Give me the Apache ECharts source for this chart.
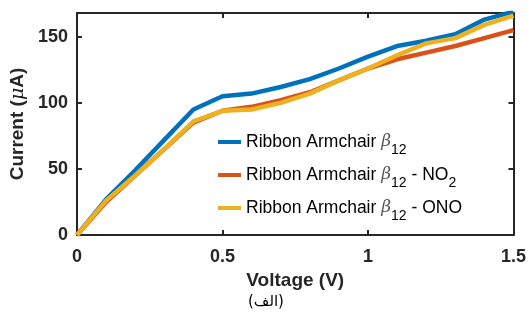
<!DOCTYPE html>
<html><head><meta charset="utf-8">
<script src="https://cdn.jsdelivr.net/npm/echarts@6/dist/echarts.min.js"></script>
<style>html,body{margin:0;padding:0;background:#fff}#c{width:529px;height:323px}</style>
</head><body><div id="c"></div>
<script>
const voltage = [0, 0.1, 0.2, 0.3, 0.4, 0.5, 0.6, 0.7, 0.8, 0.9, 1.0, 1.1, 1.2, 1.3, 1.4, 1.5];
const armchair = [0, 27, 49, 72, 95, 105, 107, 112, 118, 126, 135, 143, 147, 152, 163, 169];
const armchairNO2 = [0, 25, 45, 65, 85, 94, 97, 102, 108, 117, 126, 133, 138, 143, 149, 155];
const armchairONO = [0, 26, 45, 65, 86, 94, 95, 100, 107, 117, 126, 136, 145, 149, 159, 166];
const xTicks = [0, 0.5, 1, 1.5];
const yTicks = [0, 50, 100, 150];
const seriesNames = ['Ribbon Armchair β12', 'Ribbon Armchair β12 - NO2', 'Ribbon Armchair β12 - ONO'];
const legendTexts = [
  '{n|Ribbon Armchair }{b|β}{s|12}',
  '{n|Ribbon Armchair }{b|β}{s|12}{n| - NO}{s|2}',
  '{n|Ribbon Armchair }{b|β}{s|12}{n| - ONO}'
];
const colors = ['#0072BD', '#D95319', '#EDB120'];
const dataSets = [armchair, armchairNO2, armchairONO];

const chart = echarts.init(document.getElementById('c'), null, {renderer: 'canvas'});
const font = 'Liberation Sans, Arial, sans-serif';
const axisColor = '#262626';
const rich = {
  n: {fontFamily: font, fontSize: 17.5, color: '#000', height: 18},
  b: {fontFamily: 'DejaVu Serif, serif', fontStyle: 'italic', fontSize: 17, color: '#555', height: 18},
  s: {fontFamily: font, fontSize: 14, color: '#000', padding: [16, 0, 0, 0]}
};
const legendTops = [133, 166, 199];
const option = {
  animation: false,
  backgroundColor: '#fff',
  grid: {left: 77, right: 12, top: 13, bottom: 88, containLabel: false},
  legend: seriesNames.map((nm, i) => ({
    data: [nm], left: 218, top: legendTops[i], orient: 'vertical', padding: 0,
    icon: 'rect', itemWidth: 23, itemHeight: 4, itemGap: 5,
    formatter: () => legendTexts[i],
    textStyle: {rich: rich, fontFamily: font, fontSize: 17, color: '#000'},
    selectedMode: false
  })),
  xAxis: [{
    type: 'value', min: 0, max: 1.5, interval: 0.5,
    name: 'Voltage (V)', nameLocation: 'middle', nameGap: 22,
    nameTextStyle: {fontFamily: font, fontSize: 19, fontWeight: 'bold', color: axisColor},
    axisLine: {show: true, onZero: false, lineStyle: {color: axisColor, width: 2}},
    axisTick: {show: true, inside: true, length: 5, lineStyle: {color: axisColor, width: 2}},
    axisLabel: {customValues: xTicks, margin: 13, fontFamily: font, fontSize: 18, fontWeight: 'bold', color: axisColor,
      formatter: v => String(v)},
    splitLine: {show: false}
  }, {
    type: 'value', min: 0, max: 1.5, interval: 0.5, position: 'top',
    axisLine: {show: true, onZero: false, lineStyle: {color: axisColor, width: 2}},
    axisTick: {show: true, inside: true, length: 5, lineStyle: {color: axisColor, width: 2}},
    axisLabel: {show: false}, splitLine: {show: false}
  }],
  yAxis: [{
    type: 'value', min: 0, max: 168, interval: 50,
    name: '{b|Current (}{i|μ}{b|A)}', nameLocation: 'middle', nameGap: 47, nameRotate: 90,
    nameTextStyle: {rich: {
      b: {fontFamily: font, fontSize: 19, fontWeight: 'bold', color: axisColor},
      i: {fontFamily: 'DejaVu Serif, serif', fontSize: 19, fontStyle: 'italic', color: axisColor}
    }},
    axisLine: {show: true, onZero: false, lineStyle: {color: axisColor, width: 2}},
    axisTick: {show: true, inside: true, length: 5, customValues: yTicks, lineStyle: {color: axisColor, width: 2}},
    axisLabel: {customValues: yTicks, margin: 9, fontFamily: font, fontSize: 18, fontWeight: 'bold', color: axisColor},
    splitLine: {show: false}
  }, {
    type: 'value', min: 0, max: 168, interval: 50, position: 'right',
    axisLine: {show: true, onZero: false, lineStyle: {color: axisColor, width: 2}},
    axisTick: {show: true, inside: true, length: 5, customValues: yTicks, lineStyle: {color: axisColor, width: 2}},
    axisLabel: {show: false}, splitLine: {show: false}
  }],
  graphic: [{
    type: 'text', left: 248, top: 295,
    style: {text: '(الف)', fontFamily: 'DejaVu Sans, sans-serif', fontSize: 15, fill: '#000'}
  }],
  series: seriesNames.map((nm, i) => ({
    name: nm, type: 'line', xAxisIndex: 0, yAxisIndex: 0,
    data: voltage.map((v, j) => [v, dataSets[i][j]]),
    showSymbol: false, symbol: 'none',
    lineStyle: {color: colors[i], width: 4.5, join: 'round'},
    itemStyle: {color: colors[i]}
  }))
};
chart.setOption(option);
</script></body></html>
